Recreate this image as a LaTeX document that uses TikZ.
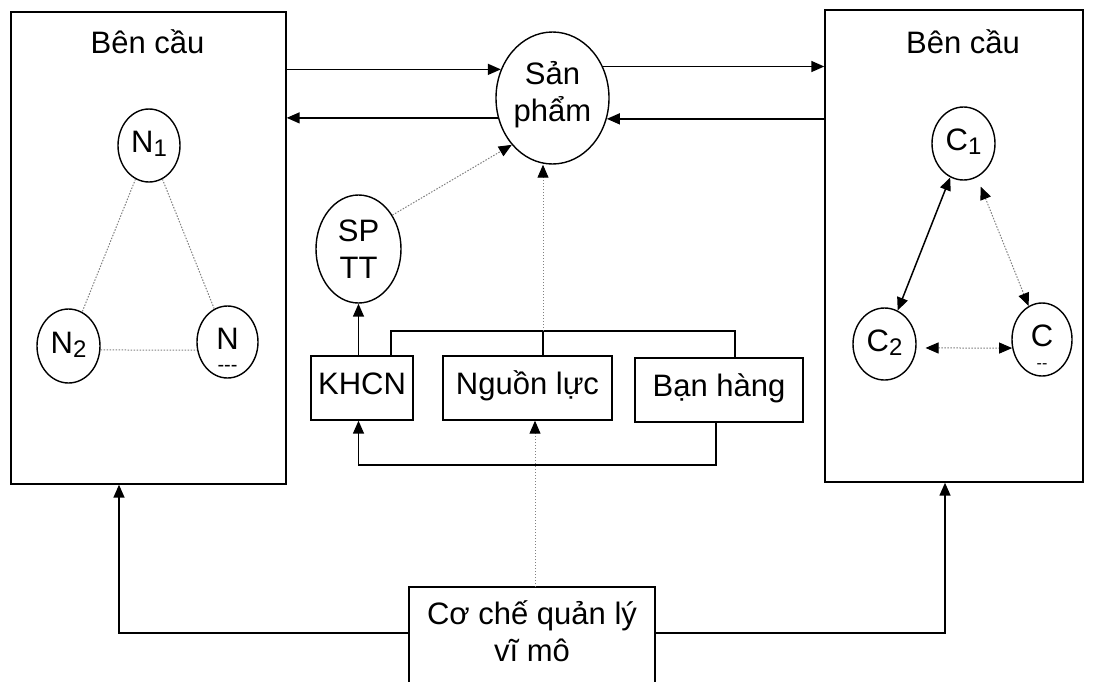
\documentclass[tikz,border=0pt]{standalone}
\usepackage{fontspec}
\setmainfont{Liberation Sans}
\usetikzlibrary{shapes.geometric,arrows.meta}
\newcommand{\sbs}[1]{\raisebox{-4pt}{\fontsize{24}{24}\selectfont #1}}
\begin{document}
\begin{tikzpicture}[x=1pt,y=-1pt,
  every node/.style={font=\fontsize{31}{37}\selectfont, inner sep=0pt},
  ell/.style={draw, ellipse, line width=1.4pt},
  subell/.style={ell, text height=22pt, text depth=8pt},
  box/.style={draw, rectangle, line width=1.4pt},
  lbox/.style={box, text height=22pt, text depth=10pt, minimum height=64pt},
  small/.style={font=\fontsize{20}{20}\selectfont},
  tipA/.tip={Triangle[length=13pt,width=11pt,color=black]},
  arr/.style={line width=1.5pt, -tipA},
  dots/.style={gray, line width=1pt, dash pattern=on 1.5pt off 1.5pt},
  darr/.style={dots, -tipA},
  ddarr/.style={dots, tipA-tipA},
  sarr/.style={line width=1.5pt, tipA-tipA}
]
\useasboundingbox (0,0) rectangle (1094,681);
\clip (0,0) rectangle (1094,681);
\fill[white] (0,0) rectangle (1094,681);

% outer boxes
\node[box, minimum width=275pt, minimum height=472pt] (L) at (148.5,248) {};
\node[box, minimum width=258pt, minimum height=472pt] (R) at (954,246) {};
\node[anchor=base] (Lt) at (147.5,53) {Bên cầu};
\node[anchor=base] (Rt) at (963,53) {Bên cầu};

% ellipses
\node[ell, minimum width=113pt, minimum height=132pt] (sp) at (552.5,98) {};
\node[align=center] (spt) at (552.5,95) {Sản\\phẩm};
\node[ell, minimum width=85pt, minimum height=108pt, align=center] (sptt) at (358.5,249) {SP\\TT};
\node[subell, minimum width=62pt, minimum height=73pt] (n1) at (149,145.5) {N\sbs{1}};
\node[subell, minimum width=63pt, minimum height=74pt] (n2) at (68.5,346) {N\sbs{2}};
\node[subell, minimum width=61pt, minimum height=72pt] (n3) at (227.5,342) {N};
\node[small] (n3d) at (227.5,368) {-{}-{}-};
\node[subell, minimum width=63pt, minimum height=73pt] (c1) at (963.5,143.5) {C\sbs{1}};
\node[subell, minimum width=63pt, minimum height=72pt] (c2) at (884.5,344) {C\sbs{2}};
\node[subell, minimum width=60pt, minimum height=73pt] (c3) at (1042,339.5) {C};
\node[small, font=\fontsize{16}{16}\selectfont] (c3d) at (1042,366) {-{}-};

% middle boxes
\node[lbox, minimum width=102pt] (khcn) at (362,388) {KHCN};
\node[lbox, minimum width=169pt] (nl) at (527.5,388) {Nguồn lực};
\node[lbox, minimum width=168pt] (bh) at (719,390) {Bạn hàng};

% bottom box
\node[box, minimum width=246pt, minimum height=140pt] (qm) at (532,657) {};
\node[align=center] (qmt) at (532,631) {Cơ chế quản lý\\vĩ mô};

% arrows between product and outer boxes
\draw[arr] (L.east |- sp.151) -- (sp.151);
\draw[arr] (sp.200) -- (L.east |- sp.200);
\draw[arr] (sp.32) -- (R.west |- sp.32);
\draw[arr] (R.west |- sp.339) -- (sp.339);

% left triangle (dotted)
\draw[dots] (n1) -- (n2);
\draw[dots] (n1) -- (n3);
\draw[dots] (n2.-7) -- (n3.195);

% right triangle
\draw[sarr] (c1) -- (c2);
\draw[ddarr, shorten <=10pt] (c1) -- (c3);
\draw[ddarr, shorten <=9pt] (c2.-7) -- (c3.196);

% SP TT
\draw[darr] (sptt.45) -- (sp.229);
\draw[arr] (khcn.north -| sptt.south) -- (sptt.south);

% top bracket
\coordinate (b1) at (391,331);
\coordinate (jt) at (543,331);
\coordinate (b3) at (735,331);
\draw[line width=1.5pt] (khcn.north -| b1) -- (b1) -- (b3) -- (bh.north -| b3);
\draw[line width=1.5pt] (jt) -- (nl.north -| jt);
\draw[darr] (jt) -- (jt |- sp.south);

% bottom bracket
\coordinate (c1b) at (716,465);
\draw[arr] (bh.south -| c1b) -- (c1b) -- (c1b -| sptt.south) -- (khcn.south -| sptt.south);

% from bottom box
\coordinate (dq) at (535,587);
\draw[darr] (dq) -- (dq |- nl.south);
\coordinate (ql) at (119,633);
\coordinate (qr) at (945,633);
\draw[arr] (qm.west |- ql) -- (ql) -- (L.south -| ql);
\draw[arr] (qm.east |- qr) -- (qr) -- (R.south -| qr);
\end{tikzpicture}
\end{document}
